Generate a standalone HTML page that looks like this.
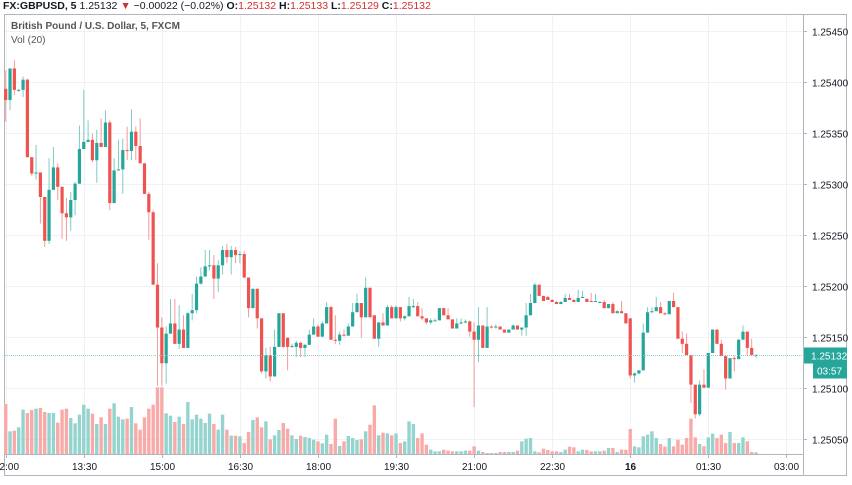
<!DOCTYPE html>
<html><head><meta charset="utf-8"><style>
html,body{margin:0;padding:0;background:#fff;width:852px;height:485px;overflow:hidden;font-family:"Liberation Sans",sans-serif}
svg{display:block}
</style></head><body>
<svg id="chart" width="852" height="485" xmlns="http://www.w3.org/2000/svg">
<text x="3" y="9" font-size="10.5" font-weight="bold" fill="#131722">FX:GBPUSD, 5 <tspan font-weight="normal">1.25132</tspan> <tspan fill="#d32f2f">▼</tspan> <tspan font-weight="normal">−0.00022 (−0.02%)</tspan> O:<tspan fill="#d32f2f" font-weight="normal">1.25132</tspan> H:<tspan fill="#d32f2f" font-weight="normal">1.25133</tspan> L:<tspan fill="#d32f2f" font-weight="normal">1.25129</tspan> C:<tspan fill="#d32f2f" font-weight="normal">1.25132</tspan></text>
<g id="grid"></g>
<rect x="4.5" y="14.5" width="842" height="461" fill="none" stroke="#b2b5be" stroke-width="1"/>
<line x1="803.5" y1="14" x2="803.5" y2="476" stroke="#b2b5be"/>
<line x1="4" y1="454.5" x2="804" y2="454.5" stroke="#b2b5be"/>
<g id="vols"></g>
<g id="candles"></g>
<g id="axes"></g>
<text x="11" y="29" font-size="10" font-weight="bold" fill="#555">British Pound / U.S. Dollar, 5, FXCM</text>
<text x="11" y="43" font-size="10" fill="#555">Vol (20)</text>
</svg>
<script>
const opens=[1.25393,1.25382,1.25413,1.25391,1.25392,1.25402,1.25326,1.25310,1.25311,1.25287,1.25244,1.25294,1.25316,1.25297,1.25271,1.25267,1.25284,1.25300,1.25334,1.25341,1.25343,1.25323,1.25340,1.25336,1.25360,1.25281,1.25313,1.25314,1.25333,1.25332,1.25351,1.25337,1.25320,1.25290,1.25272,1.25201,1.25159,1.25124,1.25153,1.25163,1.25143,1.25157,1.25139,1.25173,1.25176,1.25202,1.25209,1.25219,1.25220,1.25207,1.25220,1.25235,1.25228,1.25235,1.25230,1.25231,1.25208,1.25178,1.25197,1.25168,1.25116,
1.25132,1.25111,1.25140,1.25173,1.25149,1.25140,1.25140,1.25144,1.25139,1.25142,1.25152,1.25160,1.25150,1.25163,1.25179,1.25147,1.25146,1.25152,1.25151,1.25160,1.25174,1.25183,1.25169,1.25198,1.25171,1.25148,1.25164,1.25161,1.25179,1.25168,1.25179,1.25168,1.25170,1.25180,1.25180,1.25170,1.25168,1.25164,1.25166,1.25166,1.25178,1.25171,1.25167,1.25158,1.25163,1.25164,1.25165,1.25155,1.25147,1.25161,1.25139,1.25160,1.25159,1.25160,1.25157,1.25154,1.25157,1.25161,1.25157,1.25159,1.25171,1.25183,1.25201,1.25190,
1.25189,1.25186,1.25184,1.25182,1.25184,1.25188,1.25186,1.25184,1.25188,1.25187,1.25185,1.25184,1.25184,1.25184,1.25178,1.25182,1.25173,1.25175,1.25173,1.25168,1.25112,1.25114,1.25117,1.25154,1.25174,1.25175,1.25179,1.25173,1.25172,1.25185,1.25179,1.25148,1.25143,1.25132,1.25103,1.25074,1.25103,1.25100,1.25134,1.25157,1.25143,1.25131,1.25109,1.25129,1.25128,1.25147,1.25155,1.25139,1.25132];
const highs=[1.25411,1.25413,1.25421,1.25393,1.25405,1.25403,1.25326,1.25338,1.25311,1.25287,1.25325,1.25336,1.25320,1.25297,1.25286,1.25292,1.25302,1.25357,1.25392,1.25362,1.25349,1.25353,1.25364,1.25372,1.25362,1.25325,1.25343,1.25344,1.25356,1.25373,1.25356,1.25364,1.25320,1.25292,1.25274,1.25222,1.25169,1.25160,1.25187,1.25187,1.25181,1.25171,1.25174,1.25192,1.25209,1.25218,1.25235,1.25235,1.25230,1.25225,1.25239,1.25241,1.25239,1.25238,1.25234,1.25234,1.25208,1.25197,1.25197,1.25168,1.25139,
1.25140,1.25157,1.25173,1.25173,1.25149,1.25143,1.25146,1.25145,1.25143,1.25157,1.25168,1.25162,1.25165,1.25184,1.25180,1.25171,1.25155,1.25157,1.25163,1.25183,1.25192,1.25183,1.25208,1.25198,1.25171,1.25164,1.25173,1.25181,1.25181,1.25181,1.25179,1.25171,1.25189,1.25187,1.25184,1.25178,1.25168,1.25168,1.25168,1.25178,1.25178,1.25178,1.25167,1.25168,1.25168,1.25167,1.25166,1.25164,1.25179,1.25161,1.25179,1.25161,1.25162,1.25160,1.25157,1.25157,1.25162,1.25161,1.25159,1.25183,1.25192,1.25203,1.25201,1.25190,
1.25190,1.25187,1.25185,1.25185,1.25192,1.25192,1.25187,1.25196,1.25195,1.25188,1.25193,1.25192,1.25185,1.25186,1.25182,1.25184,1.25176,1.25185,1.25173,1.25168,1.25115,1.25117,1.25163,1.25179,1.25179,1.25189,1.25184,1.25174,1.25185,1.25193,1.25179,1.25155,1.25153,1.25132,1.25103,1.25107,1.25118,1.25134,1.25157,1.25157,1.25147,1.25131,1.25129,1.25131,1.25148,1.25161,1.25155,1.25148,1.25133];
const lows=[1.25361,1.25372,1.25387,1.25390,1.25385,1.25326,1.25308,1.25304,1.25261,1.25238,1.25241,1.25294,1.25284,1.25246,1.25244,1.25254,1.25269,1.25300,1.25334,1.25341,1.25321,1.25301,1.25336,1.25336,1.25274,1.25281,1.25313,1.25290,1.25323,1.25323,1.25323,1.25320,1.25290,1.25245,1.25201,1.25102,1.25102,1.25104,1.25153,1.25143,1.25138,1.25139,1.25139,1.25166,1.25173,1.25201,1.25209,1.25215,1.25187,1.25194,1.25211,1.25222,1.25211,1.25222,1.25222,1.25208,1.25169,1.25178,1.25158,1.25114,1.25109,
1.25106,1.25111,1.25140,1.25139,1.25117,1.25139,1.25130,1.25130,1.25130,1.25142,1.25152,1.25150,1.25150,1.25163,1.25147,1.25143,1.25142,1.25150,1.25151,1.25160,1.25174,1.25149,1.25169,1.25169,1.25148,1.25140,1.25161,1.25161,1.25168,1.25168,1.25165,1.25166,1.25170,1.25178,1.25170,1.25166,1.25162,1.25162,1.25165,1.25166,1.25171,1.25167,1.25158,1.25158,1.25162,1.25163,1.25150,1.25081,1.25125,1.25139,1.25139,1.25158,1.25158,1.25157,1.25154,1.25154,1.25157,1.25157,1.25151,1.25151,1.25171,1.25183,1.25190,1.25185,
1.25186,1.25184,1.25182,1.25182,1.25184,1.25186,1.25184,1.25184,1.25188,1.25184,1.25184,1.25184,1.25183,1.25178,1.25178,1.25173,1.25173,1.25173,1.25163,1.25109,1.25105,1.25113,1.25117,1.25154,1.25173,1.25175,1.25173,1.25171,1.25172,1.25179,1.25148,1.25134,1.25132,1.25085,1.25070,1.25072,1.25100,1.25100,1.25134,1.25143,1.25131,1.25098,1.25109,1.25116,1.25128,1.25147,1.25131,1.25132,1.25129];
const closes=[1.25382,1.25413,1.25392,1.25392,1.25402,1.25326,1.25310,1.25311,1.25287,1.25244,1.25294,1.25316,1.25297,1.25271,1.25267,1.25284,1.25300,1.25334,1.25341,1.25343,1.25323,1.25340,1.25336,1.25360,1.25281,1.25313,1.25314,1.25333,1.25332,1.25351,1.25337,1.25320,1.25290,1.25272,1.25201,1.25159,1.25124,1.25153,1.25163,1.25143,1.25157,1.25139,1.25173,1.25176,1.25202,1.25209,1.25219,1.25220,1.25207,1.25220,1.25235,1.25228,1.25235,1.25230,1.25231,1.25208,1.25178,1.25197,1.25168,1.25116,1.25132,
1.25111,1.25140,1.25173,1.25140,1.25140,1.25141,1.25144,1.25139,1.25142,1.25152,1.25160,1.25150,1.25163,1.25179,1.25147,1.25146,1.25152,1.25151,1.25160,1.25174,1.25183,1.25169,1.25198,1.25169,1.25148,1.25164,1.25161,1.25179,1.25168,1.25179,1.25168,1.25170,1.25180,1.25180,1.25170,1.25168,1.25164,1.25166,1.25166,1.25178,1.25171,1.25167,1.25158,1.25163,1.25164,1.25165,1.25155,1.25147,1.25161,1.25139,1.25160,1.25159,1.25160,1.25157,1.25154,1.25157,1.25161,1.25157,1.25159,1.25171,1.25183,1.25201,1.25190,1.25185,
1.25186,1.25184,1.25182,1.25184,1.25188,1.25186,1.25184,1.25188,1.25189,1.25184,1.25184,1.25185,1.25184,1.25178,1.25182,1.25173,1.25175,1.25173,1.25163,1.25112,1.25114,1.25117,1.25154,1.25174,1.25175,1.25179,1.25173,1.25172,1.25185,1.25179,1.25148,1.25143,1.25132,1.25103,1.25074,1.25103,1.25100,1.25134,1.25157,1.25143,1.25131,1.25109,1.25129,1.25128,1.25147,1.25155,1.25139,1.25132,1.25132];
const volumes=[150,68,70,80,133,123,132,136,138,126,123,123,94,133,136,108,92,118,148,136,121,90,110,90,136,152,112,104,106,141,92,73,110,136,148,200,200,122,115,96,112,90,156,104,118,106,93,121,90,73,118,73,55,55,53,33,66,102,110,80,98,44,56,72,93,76,56,45,55,51,48,43,38,32,58,30,106,24,38,54,48,42,44,68,88,146,56,64,62,56,62,33,
38,98,90,48,62,28,13,8,8,13,10,8,8,8,10,10,23,10,6,3,3,3,6,6,6,6,10,38,46,48,8,5,16,12,8,8,6,13,22,20,8,13,12,8,8,8,10,18,18,6,13,13,75,23,20,53,58,68,48,30,22,48,23,43,28,48,106,50,30,23,50,61,48,58,33,66,33,33,50,38,6,5];
const priceTicks=[1.2505,1.251,1.2515,1.252,1.2525,1.253,1.2535,1.254,1.2545];
const timeLabels=["12:00","13:30","15:00","16:30","18:00","19:30","21:00","22:30","16","01:30","03:00"];
const timeIndex=[0,18,36,54,72,90,108,126,144,162,180];
const lastPrice=1.25132;

const NS="http://www.w3.org/2000/svg";
const X0=5.7, DX=4.337;
function xAt(i){return X0+i*DX;}
function yAt(p){return 285.7+(1.252-p)*102000;}
function vH(v){return v/3;}
function mk(tag,attrs,parent){const e=document.createElementNS(NS,tag);for(const k in attrs)e.setAttribute(k,attrs[k]);parent.appendChild(e);return e;}
const grid=document.getElementById('grid'),vols=document.getElementById('vols'),cg=document.getElementById('candles'),ax=document.getElementById('axes');
priceTicks.forEach(p=>{const y=Math.round(yAt(p))+0.5;
 const l=mk('line',{x1:5,x2:803,y1:y,y2:y,stroke:'#eef1f6'},grid);
 
 
 const t=mk('text',{x:812,y:y+4,'font-size':10,fill:'#131722'},ax);t.textContent=p.toFixed(5);
 
 
 const tk=mk('line',{x1:803,x2:807,y1:y,y2:y,stroke:'#b2b5be'},ax);
 
 
});
timeLabels.forEach((s,k)=>{const x=Math.round(xAt(timeIndex[k]))+0.5;
 const l=mk('line',{x1:x,x2:x,y1:15,y2:454,stroke:'#eef1f6'},grid);
 
 
 const tk=mk('line',{x1:x,x2:x,y1:454,y2:458,stroke:'#b2b5be'},ax);
 
 
 const t=mk('text',{x:x,y:470,'font-size':10,fill:'#131722','text-anchor':'middle','font-weight':s==='16'?'bold':'normal'},ax);t.textContent=s;
 
 
});
closes.forEach((c,i)=>{const o=opens[i],up=c>=o,x=xAt(i);
 const vh=vH(volumes[i]);
 const vb=mk('rect',{x:x-1.7,y:454-vh,width:3.4,height:vh,fill:up?'#95d4ce':'#f8aaa8'},vols);
 
 
 const col=up?'#26a69a':'#ef5350';
 const w=mk('line',{x1:x,x2:x,y1:yAt(highs[i]),y2:yAt(lows[i]),stroke:up?'#7fcbc3':'#f49a98','stroke-width':1},cg);
 
 
 const yt=yAt(Math.max(o,c)),yb=yAt(Math.min(o,c));
 const b=mk('rect',{x:x-1.6,y:yt,width:3.2,height:Math.max(1,yb-yt),fill:col},cg);
 
 
});
const ly=Math.round(yAt(lastPrice))+0.5;
const pl=mk('line',{x1:5,x2:803,y1:ly,y2:ly,stroke:'#8ccfc8','stroke-dasharray':'1,1'},ax);


const lb=mk('rect',{x:804,y:ly-8,width:43,height:16,fill:'#26a69a'},ax);


const lt=mk('text',{x:811,y:ly+4,'font-size':10,fill:'#fff'},ax);lt.textContent=lastPrice.toFixed(5);


const cb=mk('rect',{x:813,y:ly+8,width:34,height:15,fill:'#26a69a'},ax);


const ct=mk('text',{x:817,y:ly+19,'font-size':10,fill:'#fff'},ax);ct.textContent='03:57';


</script>
</body></html>
